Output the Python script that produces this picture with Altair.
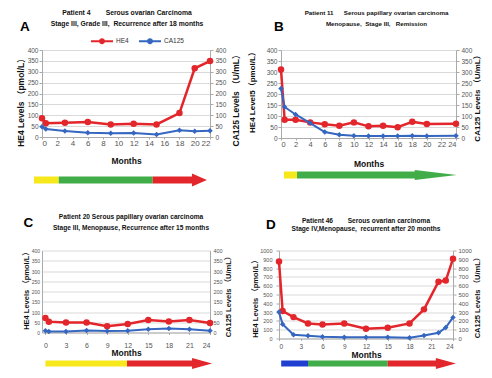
import altair as alt
import pandas as pd

RED = "#e3262b"
BLUE = "#3566c0"
YEL = "#f7e81c"
GRN = "#40ad48"
DBLUE = "#1f3fd0"
FONT = "Liberation Sans, Noto Sans CJK SC"
NB = "\u00a0"

# ---------------- data ----------------
# Panel A
a_months = [0, 0.5, 3, 6, 9, 12, 15, 18, 20, 22]
a_he4 = [86, 63, 66, 69, 58, 61, 58, 110, 316, 349]
a_ca125 = [47, 37, 28, 20, 17, 18, 12, 31, 26, 29]
a_xticks = [0, 2, 4, 6, 8, 10, 12, 14, 16, 18, 20, 22]
a_stage_edges = [-1.05, 2.2, 14.5, 21.6]
a_stage_colors = [YEL, GRN, RED]
a_title = "Patient 4" + NB * 8 + "Serous ovarian Carcinoma\nStage III, Grade III," + NB * 2 + "Recurrence after 18 months"

# Panel B
b_months = [0, 0.5, 2, 4, 6, 8, 10, 12, 14, 16, 18, 20, 24]
b_he4 = [311, 83, 83, 71, 62, 56, 71, 53, 56, 49, 74, 64, 65]
b_ca125 = [225, 141, 107, 68, 27, 15, 10, 9, 9, 9, 10, 9, 10]
b_xticks = [0, 2, 4, 6, 8, 10, 12, 14, 16, 18, 20, 22, 24]
b_stage_edges = [0.4, 2.2, 24.1]
b_stage_colors = [YEL, GRN]
b_title = "Patient 11" + NB * 6 + "Serous papillary ovarian carcinoma\nMenopause," + NB * 2 + "Stage III," + NB * 3 + "Remission"

# Panel C
c_months = [0, 0.5, 3, 6, 9, 12, 15, 18, 21, 24]
c_he4 = [71, 53, 49, 49, 30, 41, 61, 54, 61, 46]
c_ca125 = [8, 5, 5, 10, 7, 8, 16, 20, 16, 8]
c_xticks = [0, 3, 6, 9, 12, 15, 18, 21, 24]
c_stage_edges = [0, 11.9, 24.3]
c_stage_colors = [YEL, RED]
c_title = "Patient 20 Serous papillary ovarian carcinoma\nStage III, Menopause, Recurrence after 15 months"

# Panel D
d_months = [0, 0.5, 2, 4, 6, 9, 12, 15, 18, 20, 22, 23, 24]
d_he4 = [875, 312, 243, 171, 160, 171, 110, 122, 171, 331, 646, 658, 905]
d_ca125 = [300, 163, 42, 30, 19, 15, 15, 15, 8, 34, 65, 125, 240]
d_xticks = [0, 3, 6, 9, 12, 15, 18, 21, 24]
d_stage_edges = [0.3, 4.0, 15.0, 24.4]
d_stage_colors = [DBLUE, GRN, RED]
d_title = "Patient 46" + NB * 8 + "Serous ovarian carcinoma\nStage IV,Menopause," + NB * 2 + "recurrent after 20 months"

LEG_PATH = ("M-1,-0.1L1,-0.1L1,0.1L-1,0.1Z"
            "M0.27,0A0.27,0.27,0,1,1,-0.27,0A0.27,0.27,0,1,1,0.27,0Z")


def panel(months, he4, ca125, xdomain, xticks, ymax, ystep, title, letter, edges,
          colors, left_title, right_title, st):
    w, h = st["w"], st["h"]
    ppm = w / (xdomain[1] - xdomain[0])
    he4_df = pd.DataFrame({"Months": months, "value": he4, "series": "HE4"})
    ca_df = pd.DataFrame({"Months": months, "value": ca125, "series": "CA125"})
    xs = alt.Scale(domain=xdomain, nice=False, zero=False)
    x = alt.X("Months:Q", scale=xs,
              axis=alt.Axis(values=xticks, title="Months", grid=False,
                            labelFontSize=st["xlab"], tickSize=2,
                            labelPadding=st["xpad"], titleFontSize=8.5,
                            titlePadding=st["xtpad"], format="d"))
    yvals = list(range(0, ymax + 1, ystep))
    legend = alt.Legend(orient="none", legendX=st["leg"][0], legendY=st["leg"][1],
                        direction="horizontal", title=None, symbolType=LEG_PATH,
                        symbolSize=484, symbolStrokeWidth=0, symbolOpacity=1,
                        labelFontSize=6.5, labelFont=FONT, labelColor="#333",
                        columnPadding=10, labelOffset=3, padding=0)
    color = alt.Color("series:N",
                      scale=alt.Scale(domain=["HE4", "CA125"], range=[RED, BLUE]),
                      legend=legend)
    lt, lp, ls, ltx, lty = st["left"]
    rt, rp, rs, rtx, rty = st["right"]
    he4_base = alt.Chart(he4_df).encode(
        x=x,
        y=alt.Y("value:Q", scale=alt.Scale(domain=[0, ymax], nice=False),
                axis=alt.Axis(values=yvals, title=left_title, orient="left",
                              grid=True, tickSize=lt, labelPadding=lp,
                              labelFontSize=ls, titleFontSize=st["ytitle"],
                              titleAngle=270, titleX=ltx, titleY=lty,
                              titleAlign="center", titleBaseline="middle",
                              format="d")))
    he4_layer = alt.layer(
        he4_base.mark_line(color=RED, strokeWidth=2.5),
        he4_base.mark_point(shape="circle", filled=True, size=42, opacity=1).encode(color=color),
    )
    ca_base = alt.Chart(ca_df).encode(
        x=x,
        y=alt.Y("value:Q", scale=alt.Scale(domain=[0, ymax], nice=False),
                axis=alt.Axis(values=yvals, title=right_title, orient="right",
                              grid=False, tickSize=rt, labelPadding=rp,
                              labelFontSize=rs, titleFontSize=st["ytitle"],
                              titleAngle=270, titleX=rtx, titleY=rty,
                              titleAlign="center", titleBaseline="middle",
                              format="d")))
    ca_layer = alt.layer(
        ca_base.mark_line(color=BLUE, strokeWidth=2),
        ca_base.mark_point(shape="diamond", filled=True, size=30, opacity=1).encode(color=color),
    )
    L, H = st["head"]
    tip = edges[-1]
    ends = list(edges[1:])
    ends[-1] = tip - (L - 1) / ppm
    seg_df = pd.DataFrame({"Months": edges[:-1], "end": ends, "c": colors})
    arrow = alt.Chart(seg_df).mark_rule(strokeWidth=st["bar"], strokeCap="butt").encode(
        x=x, x2="end:Q", y=alt.value(st["arrow_y"]), stroke=alt.Stroke("c:N", scale=None))
    head_path = f"M{-L},{-H}L0,0L{-L},{H}Z"
    head_df = pd.DataFrame({"Months": [tip]})
    arrowhead = alt.Chart(head_df).mark_point(
        shape=head_path, filled=True, size=4, opacity=1, color=colors[-1]
    ).encode(x=x, y=alt.value(st["arrow_y"]))
    let_df = pd.DataFrame({"t": [letter]})
    let_layer = alt.Chart(let_df).mark_text(
        font="Liberation Sans", fontSize=13.5, fontWeight="bold", align="left",
        baseline="alphabetic", color="black"
    ).encode(text="t:N", x=alt.value(st["letter"][0]), y=alt.value(st["letter"][1]))
    tit_df = pd.DataFrame({"t": [title]})
    tit_layer = alt.Chart(tit_df).mark_text(
        font=FONT, fontSize=st["tsize"], fontWeight="bold", align="center",
        baseline="top", lineBreak="\n", lineHeight=st["tlh"], color="#111"
    ).encode(text="t:N", x=alt.value(w / 2 + st["tdx"]), y=alt.value(st["ty"]))
    return alt.layer(he4_layer, ca_layer, arrow, arrowhead, let_layer, tit_layer).resolve_scale(
        y="independent"
    ).properties(width=w, height=h)


A = panel(a_months, a_he4, a_ca125, [0, 22], a_xticks, 400, 50, a_title, "A",
          a_stage_edges, a_stage_colors, "HE4 Levels （pmol/L）", "CA125 Levels （U/mL）",
          dict(w=168, h=87, xlab=8, xpad=0, xtpad=9, leg=(49, -20),
               left=(3, 1, 6.5, -21.5, 50), right=(3, 2, 6.5, 25, 48), ytitle=8.5,
               head=(15, 6.5), bar=7, arrow_y=130, letter=(-22, -19),
               tsize=6.8, tlh=11, tdx=1, ty=-40))
B = panel(b_months, b_he4, b_ca125, [0, 24], b_xticks, 400, 50, b_title, "B",
          b_stage_edges, b_stage_colors, "HE4 Level5（pmol/L）", "CA125 Levels （U/mL）",
          dict(w=175, h=88, xlab=7.5, xpad=0, xtpad=12, leg=(58, -18),
               left=(3, 1, 6.5, -28.5, 40), right=(3, 2, 6.5, 21.5, 46), ytitle=8,
               head=(42, 5), bar=7, arrow_y=125, letter=(-7, -19),
               tsize=6.2, tlh=11, tdx=8, ty=-40))
C = panel(c_months, c_he4, c_ca125, [-0.5, 24], c_xticks, 400, 50, c_title, "C",
          c_stage_edges, c_stage_colors, "HE4 Levels （pmol/L）", "CA125 Levels （U/mL）",
          dict(w=168, h=82, xlab=7, xpad=7, xtpad=0, leg=(54, -15),
               left=(0, 2.5, 5, -16, 38), right=(0, 3, 5.5, 18.5, 44), ytitle=7.5,
               head=(20, 5.5), bar=6, arrow_y=113, letter=(-18.5, -24),
               tsize=6.6, tlh=11, tdx=5, ty=-37))
D = panel(d_months, d_he4, d_ca125, [0, 24], d_xticks, 1000, 100, d_title, "D",
          d_stage_edges, d_stage_colors, "HE4 Levels （pmol/L）", "CA125 Levels （U/mL）",
          dict(w=174, h=88, xlab=6.5, xpad=3, xtpad=0, leg=(50, -14),
               left=(3, 4, 5.5, -24, 46), right=(3, 2, 6, 24.5, 45), ytitle=7.5,
               head=(20, 5.5), bar=6, arrow_y=113, letter=(-13, -22),
               tsize=6.6, tlh=8.5, tdx=0, ty=-33))

row1 = alt.hconcat(A, B, spacing=71, bounds="flush")
row2 = alt.hconcat(C, D, spacing=69, bounds="flush")
chart = alt.vconcat(row1, row2, spacing=26.5).properties(
    padding={"left": 8, "top": 2, "right": 0, "bottom": 0}
).configure_view(stroke=None).configure_axis(
    labelFont=FONT, labelFontSize=6.5, labelColor="#555",
    titleFont=FONT, titleFontSize=8.5, titleFontWeight="bold", titleColor="#111",
    tickColor="#aaa", domainColor="#aaa", tickSize=3, gridColor="#d9d9d9",
    labelPadding=2,
)

chart.save("out.html", embed_options={"renderer": "svg", "actions": False})
